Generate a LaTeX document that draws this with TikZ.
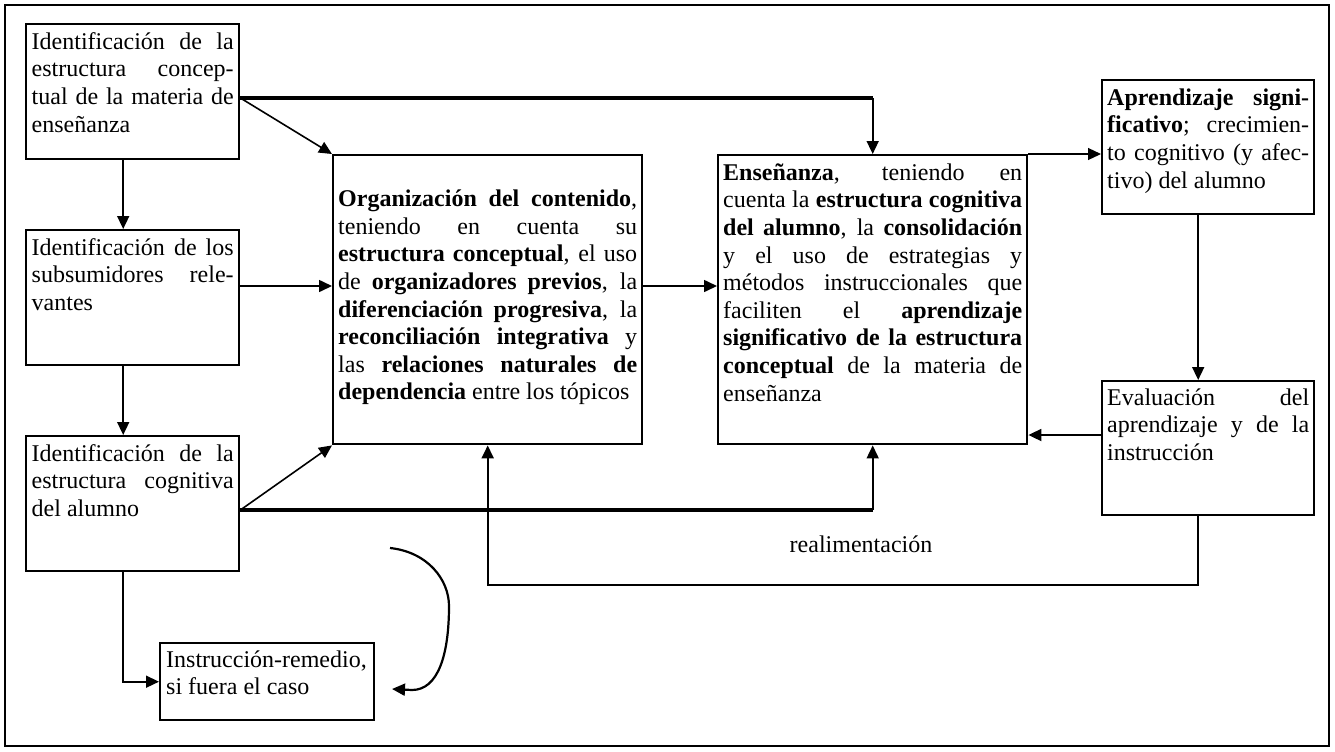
\documentclass[tikz,border=0pt]{standalone}
\usepackage{fontspec}
\setmainfont{Liberation Serif}
\usetikzlibrary{arrows.meta,calc}
\tolerance=10000
\hbadness=10000
% #1 text width, #2 box height, #3 depth of first baseline, #4 text
\newcommand\cajatexto[4]{\parbox[c][#2][t]{#1}{\rule{0pt}{#3}#4}}

\begin{document}
\begin{tikzpicture}[x=0.5pt,y=-0.5pt,
  caja/.style={draw, line width=1.2pt, inner xsep=2.75pt, inner ysep=0pt,
    anchor=north west, font=\fontsize{12}{13.8}\selectfont},
  flecha/.style={-{Triangle[length=6.5pt,width=6pt]}, line width=0.8pt},
  gruesa/.style={line width=1.6pt}]
\useasboundingbox (0,0) rectangle (1335,751);
\draw[line width=1.1pt] (5,5) rectangle (1329,746);

% left column
\node[caja] (idcon) at (25,23) {\cajatexto{101pt}{67.5pt}{12.5pt}{Identificación de la\linebreak estructura concep-\linebreak tual de la materia de\linebreak enseñanza}};
\node[caja] (idsub) at (25,229) {\cajatexto{101pt}{67.5pt}{12.5pt}{Identificación de los\linebreak subsumidores rele-\linebreak vantes}};
\node[caja] (idcog) at (25,435) {\cajatexto{101pt}{67.5pt}{12.5pt}{Identificación de la\linebreak estructura cognitiva\linebreak del alumno}};
\node[caja, inner xsep=3pt] (remedio) at (159,642) {\cajatexto{101pt}{38.5pt}{12pt}{Instrucción-remedio,\linebreak si fuera el caso}};

% central boxes
\node[caja, inner xsep=2.5pt] (org) at (332,154) {\cajatexto{149.5pt}{144.5pt}{25.7pt}{\textbf{Organización del contenido},\linebreak teniendo en cuenta su\linebreak \textbf{estructura conceptual}, el uso\linebreak de \textbf{organizadores previos}, la\linebreak \textbf{diferenciación progresiva}, la\linebreak \textbf{reconciliación integrativa} y\linebreak las \textbf{relaciones naturales de}\linebreak \textbf{dependencia} entre los tópicos}};
\node[caja, inner xsep=2.5pt] (ens) at (717,154) {\cajatexto{149.5pt}{144.5pt}{12.5pt}{\textbf{Enseñanza}, teniendo en\linebreak cuenta la \textbf{estructura cognitiva}\linebreak \textbf{del alumno}, la \textbf{consolidación}\linebreak y el uso de estrategias y\linebreak métodos instruccionales que\linebreak faciliten el \textbf{aprendizaje}\linebreak \textbf{significativo de la estructura}\linebreak \textbf{conceptual} de la materia de\linebreak enseñanza}};

% right column
\node[caja, inner xsep=2.5pt] (apr) at (1101,79) {\cajatexto{101pt}{67pt}{12.5pt}{\textbf{Aprendizaje signi-}\linebreak \textbf{ficativo}; crecimien-\linebreak to cognitivo (y afec-\linebreak tivo) del alumno}};
\node[caja, inner xsep=2.5pt] (eval) at (1101,380) {\cajatexto{101pt}{67pt}{12pt}{Evaluación del\linebreak aprendizaje y de la\linebreak instrucción}};

\node[font=\fontsize{12}{13.8}\selectfont, anchor=base, inner sep=0pt] (realim) at (861,552) {realimentación};

% connection points
\coordinate (salcon) at ($(idcon.north east)+(0,75)$);
\coordinate (salsub) at ($(idsub.north east)+(0,57)$);
\coordinate (salcog) at ($(idcog.north east)+(0,75)$);
\coordinate (saleval) at ($(eval.north west)+(0,55)$);
\coordinate (nivelfb) at (0,585);
\coordinate (curvaini) at (390,548);
\coordinate (curvafin) at (392,689);

% left column arrows
\draw[flecha] ([xshift=-4.75pt]idcon.south) -- ([xshift=-4.75pt]idsub.north);
\draw[flecha] ([xshift=-4.75pt]idsub.south) -- ([xshift=-4.75pt]idcog.north);
\draw[flecha] ([xshift=-4.75pt]idcog.south) |- (remedio.west);

% into the organisation box
\draw[flecha] (salcon) -- (org.north west);
\draw[flecha] (salsub) -- (salsub -| org.west);
\draw[flecha] (salcog) -- (org.south west);

% into the teaching box
\draw[gruesa] (salcon) -- (salcon -| ens.north);
\draw[flecha] (salcon -| ens.north) -- (ens.north);
\draw[flecha] (salsub -| org.east) -- (salsub -| ens.west);
\draw[gruesa] (salcog) -- (salcog -| ens.south);
\draw[flecha] (salcog -| ens.south) -- (ens.south);

% right column
\draw[flecha, line width=0.6pt] (ens.north east) -- (ens.north east -| apr.west);
\draw[flecha] ([xshift=-5pt]apr.south) -- ([xshift=-5pt]eval.north);
\draw[flecha, line width=0.9pt] (saleval) -- (saleval -| ens.east);

% feedback loop
\draw[flecha, line width=1pt] ([xshift=-5pt]eval.south) |- (nivelfb -| org.south) -- (org.south);

% curved arrow towards the remedial box
\draw[flecha, line width=1.1pt] (curvaini) .. controls (428,552) and (449,580) .. (449,606)
  .. controls (449,655) and (438,690) .. (412,690) -- (curvafin);
\end{tikzpicture}
\end{document}
